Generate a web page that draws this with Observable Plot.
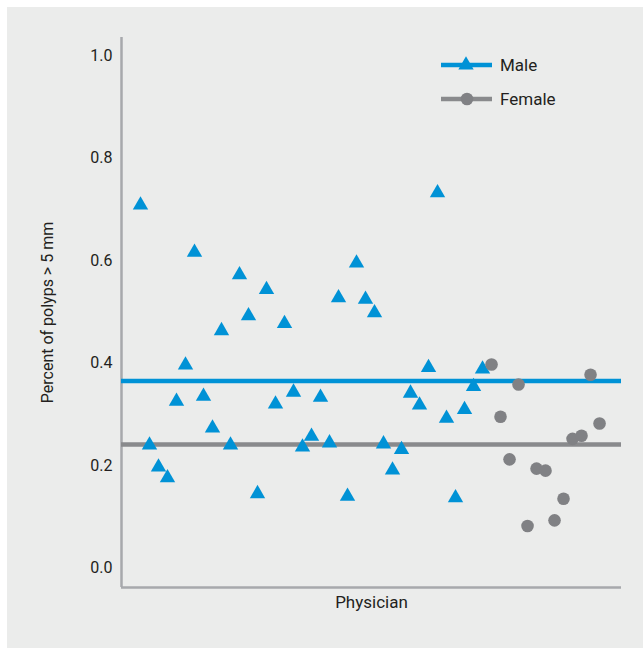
<!DOCTYPE html>
<html>
<head>
<meta charset="utf-8">
<script src="https://cdn.jsdelivr.net/npm/d3@7"></script>
<script src="https://cdn.jsdelivr.net/npm/@observablehq/plot@0.6"></script>
<style>
  html, body { margin: 0; padding: 0; background: #ffffff; }
  #panel { position: absolute; left: 7px; top: 7px; width: 636px; height: 641px; background: #ebeceb; }
  #legend { position: absolute; left: 434px; top: 48px; font-family: Roboto, sans-serif; font-size: 17px; color: #231f20; }
  svg { font-family: Roboto, sans-serif; }
</style>
</head>
<body>
<div id="panel"></div>
<script>
// Data
const maleValues = [0.708, 0.240, 0.197, 0.176, 0.325, 0.396, 0.616, 0.335, 0.273, 0.463,
  0.240, 0.572, 0.492, 0.145, 0.543, 0.320, 0.477, 0.343, 0.236, 0.257,
  0.333, 0.244, 0.527, 0.140, 0.595, 0.524, 0.498, 0.242, 0.191, 0.231,
  0.341, 0.318, 0.391, 0.732, 0.292, 0.137, 0.309, 0.354, 0.388];
const femaleValues = [0.397, 0.295, 0.212, 0.358, 0.082, 0.194, 0.190, 0.093, 0.135, 0.252,
  0.258, 0.377, 0.282];
const maleMean = 0.365;
const femaleMean = 0.241;
const yTicks = [0.0, 0.2, 0.4, 0.6, 0.8, 1.0];
const seriesNames = ["Male", "Female"];
const xLabel = "Physician";
const yLabel = "Percent of polyps > 5 mm";

const BLUE = "#0092d6";
const GREY = "#808184";
const LINEGREY = "#898a8c";
const AXIS = "#a7a9ac";

const male = maleValues.map((v, i) => ({physician: i + 1, value: v}));
const female = femaleValues.map((v, i) => ({physician: maleValues.length + i + 1, value: v}));
const xDomain = [-1.11, 54.44];
const yDomain = [-0.038, 1.035];

const chart = Plot.plot({
  width: 636,
  height: 641,
  marginLeft: 114,
  marginRight: 22,
  marginTop: 30,
  marginBottom: 61,
  style: {background: "transparent", fontSize: "16px", color: "#231f20"},
  x: {domain: xDomain, axis: null},
  y: {domain: yDomain, axis: null},
  marks: [
    Plot.axisY({ticks: yTicks, tickFormat: d3.format(".1f"), tickSize: 0, tickPadding: 9, label: null, fontSize: 16}),
    Plot.ruleX([xDomain[0]], {stroke: AXIS, strokeWidth: 2.5}),
    Plot.ruleY([yDomain[0]], {stroke: AXIS, strokeWidth: 2.5}),
    Plot.ruleY([maleMean], {stroke: BLUE, strokeWidth: 4.5}),
    Plot.ruleY([femaleMean], {stroke: LINEGREY, strokeWidth: 4.5}),
    Plot.dot(male, {x: "physician", y: "value", symbol: "triangle", r: 5.7, fill: BLUE, stroke: "none"}),
    Plot.dot(female, {x: "physician", y: "value", symbol: "circle", r: 6.3, fill: GREY, stroke: "none"}),
    Plot.text([xLabel], {frameAnchor: "bottom", dy: 20, fontSize: 17, fill: "#231f20"}),
    Plot.text([yLabel], {frameAnchor: "left", textAnchor: "middle", dx: -74, rotate: -90, fontSize: 16, fill: "#231f20"})
  ]
});
document.getElementById("panel").appendChild(chart);

// Legend
const legend = d3.select("body").append("div").attr("id", "legend");
const colors = [BLUE, LINEGREY];
seriesNames.forEach((name, i) => {
  const row = legend.append("div").style("display", "flex").style("align-items", "center").style("height", "34px");
  const s = row.append("svg").attr("width", 58).attr("height", 20);
  s.append("line").attr("x1", 7).attr("x2", 58).attr("y1", 10).attr("y2", 10)
    .attr("stroke", colors[i]).attr("stroke-width", 4.5);
  if (i === 0) {
    s.append("path").attr("d", d3.symbol(d3.symbolTriangle, Math.PI * 5.7 * 5.7)()).attr("transform", "translate(32,10)").attr("fill", BLUE);
  } else {
    s.append("circle").attr("cx", 33).attr("cy", 10).attr("r", 6.3).attr("fill", GREY);
  }
  row.append("span").style("margin-left", "8px").text(name);
});
</script>
</body>
</html>
